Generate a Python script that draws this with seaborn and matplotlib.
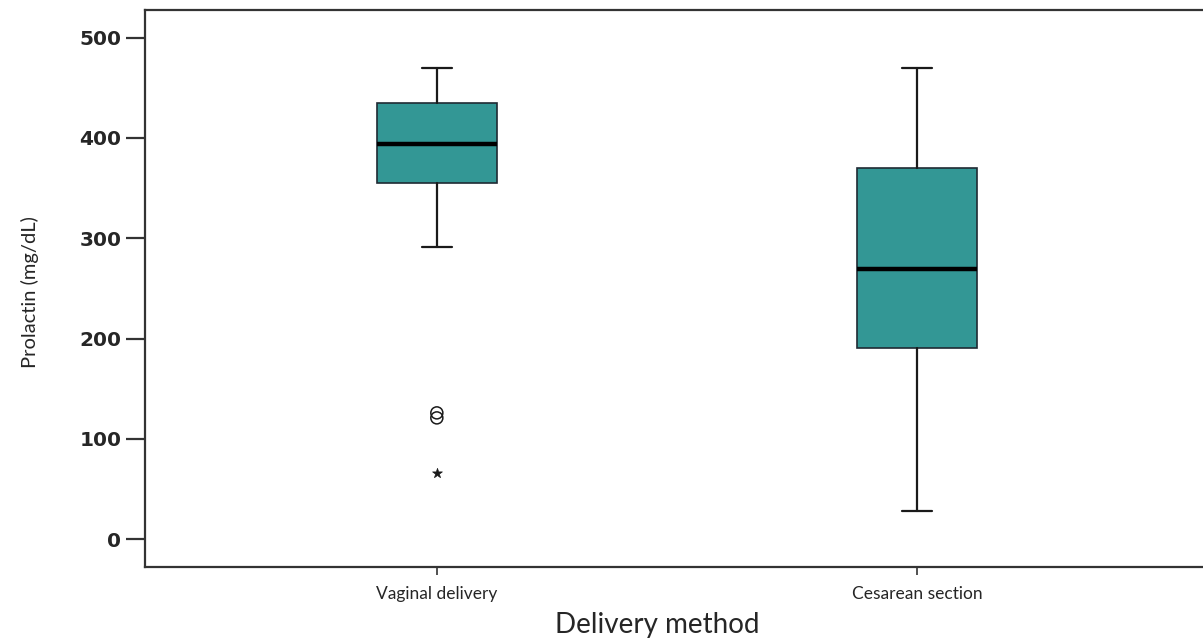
import numpy as np
import pandas as pd
import matplotlib
matplotlib.use("Agg")
import matplotlib.pyplot as plt
import seaborn as sns

# --- data (five-number summaries per group) ---
groups = ["Vaginal delivery", "Cesarean section"]
whisk_low = [291, 28]
q1 = [355, 191]
median = [394, 269]
q3 = [435, 370]
whisk_high = [470, 470]

# outliers (circles) and extreme values (stars)
outlier_group = ["Vaginal delivery", "Vaginal delivery"]
outlier_vals = [126, 121]
extreme_group = ["Vaginal delivery"]
extreme_vals = [66]

y_ticks = [0, 100, 200, 300, 400, 500]

sns.set_theme(style="white")
plt.rcParams["font.family"] = ["DejaVu Sans"]

fig = plt.figure(figsize=(12.03, 6.39), dpi=100)
ax = fig.add_axes([0.1205, 0.1127, 0.8795, 0.8724])

stats = []
for i, g in enumerate(groups):
    stats.append({"label": g, "whislo": whisk_low[i], "q1": q1[i], "med": median[i],
                  "q3": q3[i], "whishi": whisk_high[i], "fliers": []})

ax.bxp(stats, positions=range(len(groups)), widths=0.25, capwidths=0.0625,
       patch_artist=True, showfliers=False,
       boxprops=dict(facecolor="#339795", edgecolor="#1f2a33", linewidth=1.2),
       medianprops=dict(color="black", linewidth=3.2, solid_capstyle="butt"),
       whiskerprops=dict(color="#1a1a1a", linewidth=1.6),
       capprops=dict(color="#1a1a1a", linewidth=1.6))

out_df = pd.DataFrame({"pos": [groups.index(g) for g in outlier_group], "val": outlier_vals})
ext_df = pd.DataFrame({"pos": [groups.index(g) for g in extreme_group], "val": extreme_vals})
sns.scatterplot(data=out_df, x="pos", y="val", ax=ax, marker="o", s=75,
                facecolors="none", edgecolor="#1a1a1a", linewidth=1.1, legend=False)
sns.scatterplot(data=ext_df, x="pos", y="val", ax=ax, marker="*", s=55,
                color="#1a1a1a", edgecolor="#1a1a1a", linewidth=0.5, legend=False)

ax.set_xlim(-0.608, 1.596)
ax.set_ylim(-27.6, 528)
ax.set_xticks(range(len(groups)))
ax.set_xticklabels(groups, fontsize=12.5, family=["Lato", "DejaVu Sans"])
ax.set_yticks(y_ticks)
ax.set_yticklabels([str(v) for v in y_ticks], fontsize=14.5, fontweight="bold")

ax.tick_params(axis="y", direction="out", length=14, width=1.6, color="#333333", pad=3, left=True)
ax.tick_params(axis="x", direction="out", length=6, width=1.2, color="#333333", pad=8, bottom=True)

for side in ["left", "top", "bottom"]:
    ax.spines[side].set_color("#333333")
    ax.spines[side].set_linewidth(1.6)
ax.spines["right"].set_visible(False)

ax.set_xlabel("Delivery method", fontsize=20, family=["Lato", "DejaVu Sans"])
ax.set_ylabel("Prolactin (mg/dL)", fontsize=14.5, family=["Lato", "DejaVu Sans"])
ax.xaxis.set_label_coords(0.484, -0.08)
ax.yaxis.set_label_coords(-0.1, 0.493)

fig.savefig("out.png", dpi=100)
